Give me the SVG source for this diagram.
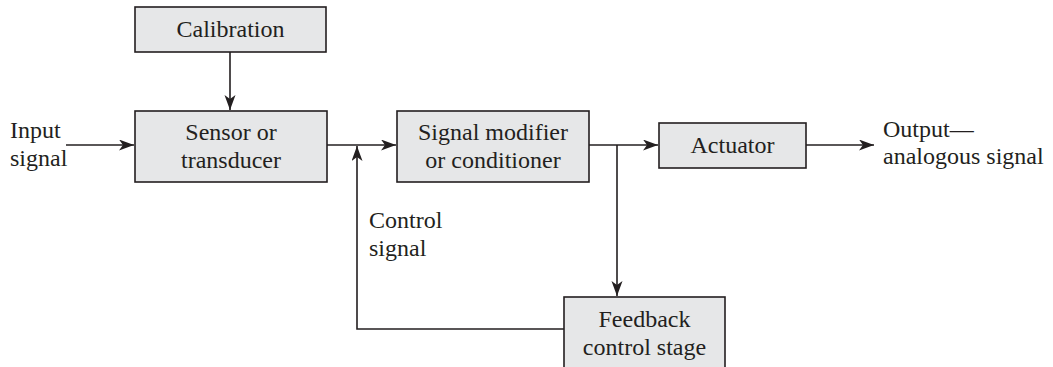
<svg xmlns="http://www.w3.org/2000/svg" width="1053" height="367" viewBox="0 0 1053 367">
<style>
.box{fill:#e6e7e8;stroke:#231f20;stroke-width:1.6}
.ln{fill:none;stroke:#231f20;stroke-width:1.6}
.t{font-family:"Liberation Serif","Times New Roman",Times,serif;font-size:24px;fill:#231f20}
.c{text-anchor:middle}
</style>
<defs>
<marker id="ah" markerUnits="userSpaceOnUse" markerWidth="16" markerHeight="12" refX="15" refY="5.5" orient="auto">
<path d="M0,0 L15,5.5 L0,11 L4,5.5 z" fill="#231f20"/>
</marker>
</defs>
<g id="calibration"><rect class="box" x="135" y="7" width="191" height="45"/><text class="t c" x="230.5" y="37">Calibration</text></g>
<g id="sensor"><rect class="box" x="135" y="111" width="192" height="71"/><text class="t c" x="231" y="140">Sensor or</text><text class="t c" x="231" y="168">transducer</text></g>
<g id="modifier"><rect class="box" x="397" y="111" width="192" height="71"/><text class="t c" x="493" y="140">Signal modifier</text><text class="t c" x="493" y="168">or conditioner</text></g>
<g id="actuator"><rect class="box" x="659" y="123" width="147" height="45"/><text class="t c" x="732.5" y="153">Actuator</text></g>
<g id="feedback"><rect class="box" x="564" y="297" width="161" height="75"/><text class="t c" x="644.5" y="327">Feedback</text><text class="t c" x="644.5" y="355">control stage</text></g>
<g id="labels">
<text class="t" x="10" y="138">Input</text><text class="t" x="10" y="166">signal</text>
<text class="t" x="883" y="137">Output—</text><text class="t" x="883" y="164">analogous signal</text>
<text class="t" x="369" y="228">Control</text><text class="t" x="369" y="256">signal</text>
</g>
<g id="connectors">
<line class="ln" x1="230" y1="52" x2="230" y2="110" marker-end="url(#ah)"/>
<line class="ln" x1="66" y1="145" x2="134" y2="145" marker-end="url(#ah)"/>
<line class="ln" x1="327" y1="145" x2="396" y2="145" marker-end="url(#ah)"/>
<polyline class="ln" points="564,329 357,329 357,146" marker-end="url(#ah)"/>
<line class="ln" x1="589" y1="145" x2="658" y2="145" marker-end="url(#ah)"/>
<line class="ln" x1="617" y1="145" x2="617" y2="296" marker-end="url(#ah)"/>
<line class="ln" x1="806" y1="145" x2="874" y2="145" marker-end="url(#ah)"/>
</g>
</svg>
